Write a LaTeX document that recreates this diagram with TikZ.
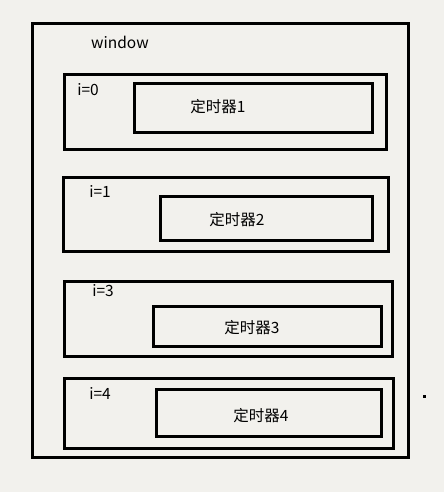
\documentclass[tikz,border=0pt]{standalone}
\usepackage{fontspec}
\setmainfont{Noto Sans CJK SC}
\usepackage{tikz}
\definecolor{mypapercolor}{HTML}{F2F1ED}
\tikzset{
  winbox/.style={draw, line width=3pt, rectangle, inner sep=0pt},
  rowbox/.style={draw, line width=3pt, rectangle, inner sep=0pt},
  timerbox/.style={draw, line width=3pt, rectangle, inner sep=0pt},
  lbl/.style={inner sep=0pt, font=\fontsize{15.5pt}{15.5pt}\selectfont}
}

\begin{document}
\begin{tikzpicture}[x=1pt, y=-1pt]%
\fill[mypapercolor] (0, 0) rectangle (444, 492);%
\useasboundingbox (0, 0) rectangle (444, 492);%
\node[winbox, minimum width=376pt, minimum height=434pt] (window) at (220.5, 240.5) {};%
\node[lbl] (windowlbl) at (120, 42) {window};%
\node[rowbox, minimum width=322pt, minimum height=75.5pt] (row0) at (225, 112) {};%
\node[timerbox, minimum width=238pt, minimum height=49.5pt] (timer1) at (253.5, 108) {};%
\node[lbl] (i0) at (88, 90) {i=0};%
\node[lbl] (timer1lbl) at (218, 107) {定时器1};%
\node[rowbox, minimum width=325pt, minimum height=74pt] (row1) at (226, 214.5) {};%
\node[timerbox, minimum width=212pt, minimum height=44pt] (timer2) at (266.5, 218.5) {};%
\node[lbl] (i1) at (100, 191) {i=1};%
\node[lbl] (timer2lbl) at (237, 220) {定时器2};%
\node[rowbox, minimum width=328pt, minimum height=75.5pt] (row3) at (228, 319) {};%
\node[timerbox, minimum width=228pt, minimum height=40pt] (timer3) at (267, 326) {};%
\node[lbl] (i3) at (103, 291) {i=3};%
\node[lbl] (timer3lbl) at (252, 328) {定时器3};%
\node[rowbox, minimum width=329.5pt, minimum height=70pt] (row4) at (229, 413.5) {};%
\node[timerbox, minimum width=225pt, minimum height=47pt] (timer4) at (269, 413) {};%
\node[lbl] (i4) at (100, 393) {i=4};%
\node[lbl] (timer4lbl) at (261, 416) {定时器4};%
\node[fill, rectangle, inner sep=0pt, minimum size=3pt] (dot) at (424, 396) {};%
\end{tikzpicture}
\end{document}
